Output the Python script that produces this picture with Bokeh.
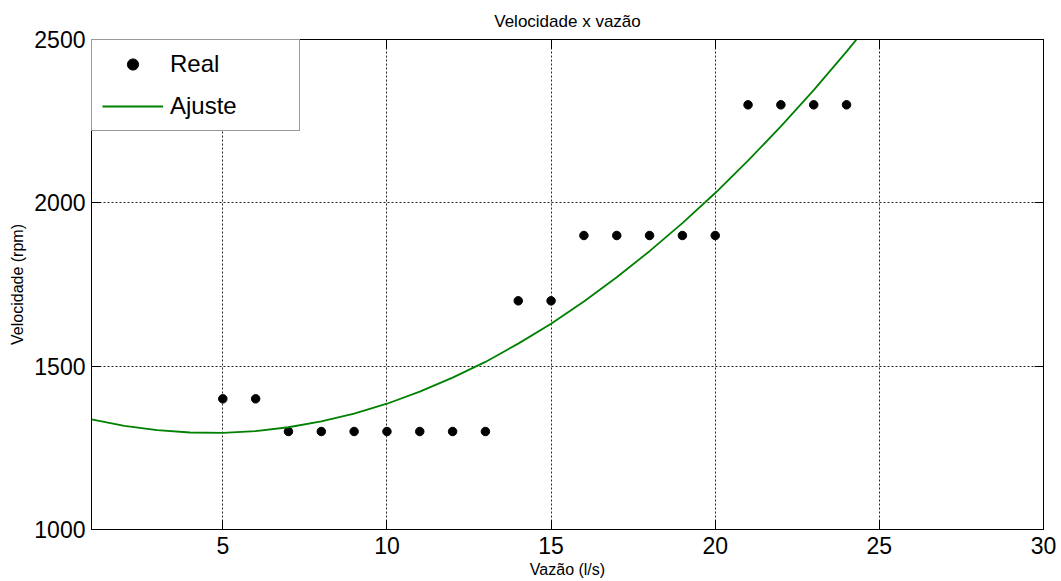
from bokeh.plotting import figure
from bokeh.models import LinearAxis, FixedTicker, Legend, LegendItem, CustomJSTickFormatter, Range1d
from bokeh.embed import file_html
from bokeh.resources import INLINE

# Data
vazao = [5, 6, 7, 8, 9, 10, 11, 12, 13, 14, 15, 16, 17, 18, 19, 20, 21, 22, 23, 24]
velocidade = [1400, 1400, 1300, 1300, 1300, 1300, 1300, 1300, 1300, 1700,
              1700, 1900, 1900, 1900, 1900, 1900, 2300, 2300, 2300, 2300]

# Fitted curve ("Ajuste")
ajuste_x = [1, 2, 3, 4, 5, 6, 7, 8, 9, 10, 11, 12, 13, 14, 15, 16, 17, 18, 19, 20, 21, 22, 23, 24, 25]
ajuste_y = [1337, 1317, 1304, 1297, 1296, 1301, 1313, 1331, 1355, 1385, 1422, 1465, 1513,
            1569, 1630, 1698, 1772, 1852, 1938, 2030, 2129, 2234, 2345, 2463, 2586]

x_ticks = [5, 10, 15, 20, 25, 30]
y_ticks = [1000, 1500, 2000, 2500]

FONT = "Liberation Sans"

p = figure(width=1061, height=581, output_backend="svg", toolbar_location=None,
           x_range=Range1d(1, 30), y_range=Range1d(1000, 2500),
           min_border_left=91, min_border_right=18, min_border_top=39, min_border_bottom=52,
           title="Velocidade x vazão")
p.background_fill_color = "white"
p.border_fill_color = "white"
p.outline_line_color = "black"
p.outline_line_width = 1

p.title.align = "center"
p.title.text_font = FONT
p.title.text_font_size = "17px"
p.title.text_font_style = "normal"
p.title.text_color = "black"
p.title.standoff = 17

def style_axis(ax, ticks, show_labels=True):
    ax.ticker = FixedTicker(ticks=ticks)
    ax.major_tick_in = 9
    ax.major_tick_out = 0
    ax.minor_tick_line_color = None
    ax.axis_line_color = "black"
    ax.major_tick_line_color = "black"
    if show_labels:
        ax.major_label_text_font = FONT
        ax.major_label_text_font_size = "23px"
        ax.major_label_text_color = "black"
        ax.axis_label_text_font = FONT
        ax.axis_label_text_font_size = "16px"
        ax.axis_label_text_font_style = "normal"
        ax.axis_label_text_color = "black"
    else:
        ax.formatter = CustomJSTickFormatter(code="return ''")
        ax.major_label_text_font_size = "0px"
        ax.major_label_standoff = 0

style_axis(p.xaxis[0], x_ticks)
style_axis(p.yaxis[0], y_ticks)
p.xaxis[0].axis_label = "Vazão (l/s)"
p.yaxis[0].axis_label = "Velocidade (rpm)"
p.xaxis[0].major_label_standoff = 7
p.xaxis[0].axis_label_standoff = 4
p.yaxis[0].major_label_standoff = 6
p.yaxis[0].axis_label_standoff = 5

top_ax = LinearAxis()
right_ax = LinearAxis()
style_axis(top_ax, x_ticks, False)
style_axis(right_ax, y_ticks, False)
p.add_layout(top_ax, "above")
p.add_layout(right_ax, "right")

p.xgrid.ticker = FixedTicker(ticks=x_ticks)
p.ygrid.ticker = FixedTicker(ticks=y_ticks)
for g in (p.xgrid[0], p.ygrid[0]):
    g.grid_line_color = "#222222"
    g.grid_line_dash = "2 2"
    g.grid_line_width = 1

pts = p.scatter(vazao, velocidade, size=8.5, marker="circle", fill_color="black", line_color="black")
fit = p.line(ajuste_x, ajuste_y, line_color="#008000", line_width=1.8)

legend = Legend(items=[LegendItem(label="Real", renderers=[pts]),
                       LegendItem(label="Ajuste", renderers=[fit])],
                location="top_left")
legend.margin = 0
legend.padding = 10
legend.spacing = 14
legend.label_height = 28
legend.glyph_height = 28
legend.glyph_width = 61
legend.label_standoff = 7
legend.label_width = 119
legend.label_text_font = FONT
legend.label_text_font_size = "24px"
legend.label_text_color = "black"
legend.border_line_color = "#333333"
legend.border_line_width = 1
legend.background_fill_color = "white"
legend.background_fill_alpha = 1
p.add_layout(legend)

open("out.html", "w").write(file_html(p, INLINE))
